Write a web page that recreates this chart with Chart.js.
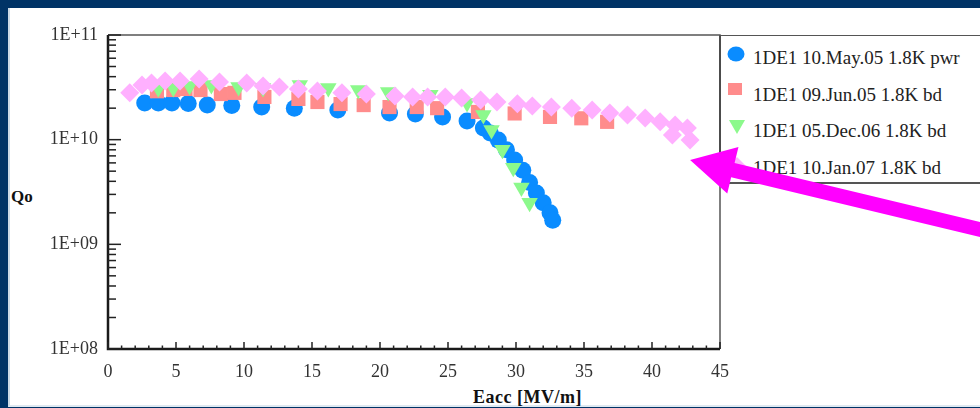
<!DOCTYPE html>
<html>
<head>
<meta charset="utf-8">
<script src="https://cdn.jsdelivr.net/npm/chart.js@4.4.1/dist/chart.umd.min.js"></script>
<style>
  html, body { margin:0; padding:0; width:980px; height:408px; overflow:hidden; background:#003366; }
  #panel { position:absolute; left:8px; top:8px; width:990px; height:397px; background:#ffffff;
           border-left:2px solid #cddae6; border-bottom:2px solid #dfe9f1; }
  #legend { position:absolute; left:719px; top:35px; width:280px; height:146px;
            border-top:1.5px solid #555; border-left:2px solid #333; border-bottom:2px solid #555; background:#fff; }
  .row { position:absolute; left:0; height:20px; line-height:20px; white-space:nowrap;
         font-family:'Liberation Serif', serif; font-size:19px; color:#222; }
  .row svg { position:absolute; }
  .row span { position:absolute; left:32px; top:0; }
  .atitle { position:absolute; font-family:'Liberation Serif', serif; font-weight:bold; color:#111; line-height:20px; white-space:nowrap; }
  #wrap { position:absolute; left:0; top:0; width:980px; height:408px; z-index:5; }
</style>
</head>
<body>
<div id="panel"></div>
<div id="legend"></div>
<div class="atitle" id="ytitle" style="left:11px; top:187px; font-size:17px;">Qo</div>
<div class="atitle" id="xtitle" style="left:473px; top:387px; font-size:18px; letter-spacing:0.5px;">Eacc [MV/m]</div>
<div id="wrap"><canvas id="c" width="980" height="408"></canvas></div>
<script>
// ---------------- data ----------------
const seriesLabels = [
  '1DE1 10.May.05 1.8K pwr',
  '1DE1 09.Jun.05 1.8K bd',
  '1DE1 05.Dec.06 1.8K bd',
  '1DE1 10.Jan.07 1.8K bd'
];
const xTickLabels = ['0','5','10','15','20','25','30','35','40','45'];
const yTickLabels = ['1E+08','1E+09','1E+10','1E+11'];

// 10.May.05 (blue circles)
const may05E = [2.7, 3.7, 4.7, 5.9, 7.3, 9.1, 11.3, 13.7, 16.9, 20.7, 22.6, 24.6, 26.4,
                27.6, 28.1, 28.7, 29.3, 29.9, 30.5, 31.0, 31.5, 32.0, 32.5, 32.7];
const may05Q = [2.24e10, 2.24e10, 2.24e10, 2.22e10, 2.14e10, 2.12e10, 2.05e10, 2.0e10, 1.92e10, 1.80e10, 1.76e10, 1.65e10, 1.51e10,
                1.29e10, 1.16e10, 9.9e9, 8.0e9, 6.4e9, 5.1e9, 3.9e9, 3.1e9, 2.5e9, 2.0e9, 1.7e9];

// 09.Jun.05 (red squares)
const jun05E = [3.6, 4.8, 5.7, 6.8, 8.3, 9.3, 11.5, 14.0, 15.4, 17.1, 18.8, 20.7, 22.7, 24.2, 27.2, 29.9, 32.5, 34.8, 36.7];
const jun05Q = [2.9e10, 2.98e10, 3.05e10, 2.98e10, 2.73e10, 2.8e10, 2.56e10, 2.45e10, 2.29e10, 2.19e10, 2.14e10, 2.05e10, 2.05e10,
                2.0e10, 1.84e10, 1.78e10, 1.65e10, 1.6e10, 1.48e10];

// 05.Dec.06 (green triangles)
const dec06E = [3.7, 4.8, 6.0, 7.6, 9.6, 11.4, 14.1, 16.2, 18.4, 20.6, 23.7, 26.4, 27.6, 28.2, 29.0, 29.8, 30.4, 31.0];
const dec06Q = [3.1e10, 3.12e10, 3.26e10, 3.33e10, 3.19e10, 3.12e10, 3.33e10, 3.12e10, 2.98e10, 2.86e10, 2.68e10, 2.24e10,
                1.72e10, 1.24e10, 8.0e9, 5.4e9, 3.5e9, 2.5e9];

// 10.Jan.07 (pink diamonds)
const jan07E = [1.6, 2.5, 3.2, 4.2, 5.3, 6.7, 8.2, 10.2, 11.4, 12.6, 14.0, 15.4, 17.2, 19.0, 21.1, 22.4, 23.5, 24.8, 26.0,
                27.4, 28.6, 30.1, 31.2, 32.6, 34.1, 35.6, 36.9, 38.2, 39.5, 40.6, 41.7, 42.6, 41.5, 42.8];
const jan07Q = [2.8e10, 3.33e10, 3.48e10, 3.64e10, 3.64e10, 3.8e10, 3.56e10, 3.48e10, 3.26e10, 3.19e10, 3.05e10, 2.92e10, 2.8e10,
                2.73e10, 2.61e10, 2.56e10, 2.56e10, 2.56e10, 2.5e10, 2.39e10, 2.29e10, 2.2e10, 2.1e10, 2.05e10, 2.0e10, 1.92e10,
                1.80e10, 1.72e10, 1.61e10, 1.48e10, 1.38e10, 1.29e10, 1.11e10, 9.9e9];

// arrow annotation target (data coordinates)
const arrowTip = { E: 42.8, Q: 6.4e9 };

// ---------------- styles ----------------
const colors = ['#0a8cff', '#ff8c8c', '#8cf98c', '#ffb0ff'];
const styles = ['circle', 'rect', 'triangle', 'rectRot'];
const radii = [8.5, 10, 9.5, 9.5];
const rotations = [0, 0, 180, 0];
const orders = [4, 3, 2, 1];

const pairs = (E, Q) => E.map((e, i) => ({ x: e, y: Q[i] }));
const seriesData = [pairs(may05E, may05Q), pairs(jun05E, jun05Q), pairs(dec06E, dec06Q), pairs(jan07E, jan07Q)];

// ---------------- legend (HTML) ----------------
const legend = document.getElementById('legend');
const rowTops = [12, 49, 85, 122];
const iconSvgs = [
  '<svg width="18" height="16" style="left:6px;top:-2px"><ellipse cx="9" cy="8" rx="8.5" ry="7.5" fill="' + colors[0] + '"/></svg>',
  '<svg width="16" height="16" style="left:6px;top:-4px"><rect x="1" y="2" width="14" height="12" fill="' + colors[1] + '"/></svg>',
  '<svg width="18" height="16" style="left:7px;top:-2px"><polygon points="1,1 17,1 9,15" fill="' + colors[2] + '"/></svg>',
  '<svg width="20" height="20" style="left:6px;top:-2px"><polygon points="10,1 19,10 10,19 1,10" fill="' + colors[3] + '"/></svg>'
];
seriesLabels.forEach((lab, i) => {
  const r = document.createElement('div');
  r.className = 'row';
  r.style.top = rowTops[i] + 'px';
  r.style.width = '270px';
  r.innerHTML = iconSvgs[i] + '<span>' + lab + '</span>';
  legend.appendChild(r);
});

// ---------------- plugin: frame, inward ticks, arrow ----------------
const framePlugin = {
  id: 'frameTicksArrow',
  afterDraw(chart) {
    const { ctx, chartArea: a, scales: { x, y } } = chart;
    ctx.save();
    const line = (x1, y1, x2, y2) => { ctx.beginPath(); ctx.moveTo(x1, y1); ctx.lineTo(x2, y2); ctx.stroke(); };
    // top & right frame
    ctx.strokeStyle = '#555'; ctx.lineWidth = 1.5;
    ctx.beginPath(); ctx.moveTo(a.left, a.top); ctx.lineTo(a.right, a.top); ctx.lineTo(a.right, a.bottom); ctx.stroke();
    // left & bottom axes
    ctx.strokeStyle = '#1a1a1a'; ctx.lineWidth = 2.5;
    ctx.beginPath(); ctx.moveTo(a.left, a.top); ctx.lineTo(a.left, a.bottom); ctx.lineTo(a.right, a.bottom); ctx.stroke();
    // x ticks (inward)
    ctx.lineWidth = 1.5; ctx.strokeStyle = '#222';
    for (let v = x.min; v <= x.max; v += 1) {
      const px = x.getPixelForValue(v);
      const len = (v % 5 === 0) ? 7 : 3.5;
      line(px, a.bottom, px, a.bottom - len);
    }
    // y ticks (inward, log minor)
    for (let d = 8; d <= 11; d++) {
      for (let m = 1; m <= 9; m++) {
        const val = m * Math.pow(10, d);
        if (val > y.max * 1.0001) break;
        const py = y.getPixelForValue(val);
        const len = (m === 1) ? 13 : 8;
        line(a.left, py, a.left + len, py);
      }
    }
    // magenta arrow annotation
    const tx = x.getPixelForValue(arrowTip.E), ty = y.getPixelForValue(arrowTip.Q);
    const ang = Math.atan(0.24);
    const dx = Math.cos(ang), dy = Math.sin(ang);
    const nx = -dy, ny = dx;
    const headL = 44, headW = 24, shaftW = 7.3, tailLen = 340;
    const bx = tx + dx * headL, by = ty + dy * headL;
    const ex = tx + dx * tailLen, ey = ty + dy * tailLen;
    ctx.fillStyle = '#ff00ff';
    ctx.beginPath();
    ctx.moveTo(tx, ty);
    ctx.lineTo(bx + nx * headW, by + ny * headW);
    ctx.lineTo(bx + nx * shaftW, by + ny * shaftW);
    ctx.lineTo(ex + nx * shaftW, ey + ny * shaftW);
    ctx.lineTo(ex - nx * shaftW, ey - ny * shaftW);
    ctx.lineTo(bx - nx * shaftW, by - ny * shaftW);
    ctx.lineTo(bx - nx * headW, by - ny * headW);
    ctx.closePath();
    ctx.fill();
    ctx.restore();
  }
};

Chart.defaults.font.family = "'Liberation Serif', serif";

new Chart(document.getElementById('c'), {
  type: 'scatter',
  data: {
    datasets: seriesData.map((d, i) => ({
      label: seriesLabels[i],
      data: d,
      showLine: false,
      pointStyle: styles[i],
      pointRadius: radii[i],
      pointHoverRadius: radii[i],
      pointRotation: rotations[i],
      pointBorderWidth: 0,
      borderWidth: 0,
      backgroundColor: colors[i],
      borderColor: colors[i],
      order: orders[i],
      clip: false
    }))
  },
  options: {
    responsive: false,
    animation: false,
    devicePixelRatio: 1,
    layout: { padding: { left: 0, right: 260, top: 35, bottom: 0 } },
    plugins: { legend: { display: false }, tooltip: { enabled: false } },
    scales: {
      x: {
        type: 'linear', min: 0, max: 45,
        grid: { display: false, drawTicks: false },
        border: { display: false },
        ticks: {
          stepSize: 5, padding: 12, color: '#333',
          font: { size: 18 },
          callback: (v) => xTickLabels[Math.round(v / 5)] ?? ''
        },
        afterFit: (s) => { s.height = 59; }
      },
      y: {
        type: 'logarithmic', min: 1e8, max: 1e11,
        grid: { display: false, drawTicks: false },
        border: { display: false },
        ticks: {
          autoSkip: false, padding: 10, color: '#333',
          font: { size: 18 },
          callback: (v) => {
            const l = Math.log10(v);
            if (Math.abs(l - Math.round(l)) < 1e-6) return yTickLabels[Math.round(l) - 8] ?? '';
            return '';
          }
        },
        afterFit: (s) => { s.width = 108; }
      }
    }
  },
  plugins: [framePlugin]
});
</script>
</body>
</html>
